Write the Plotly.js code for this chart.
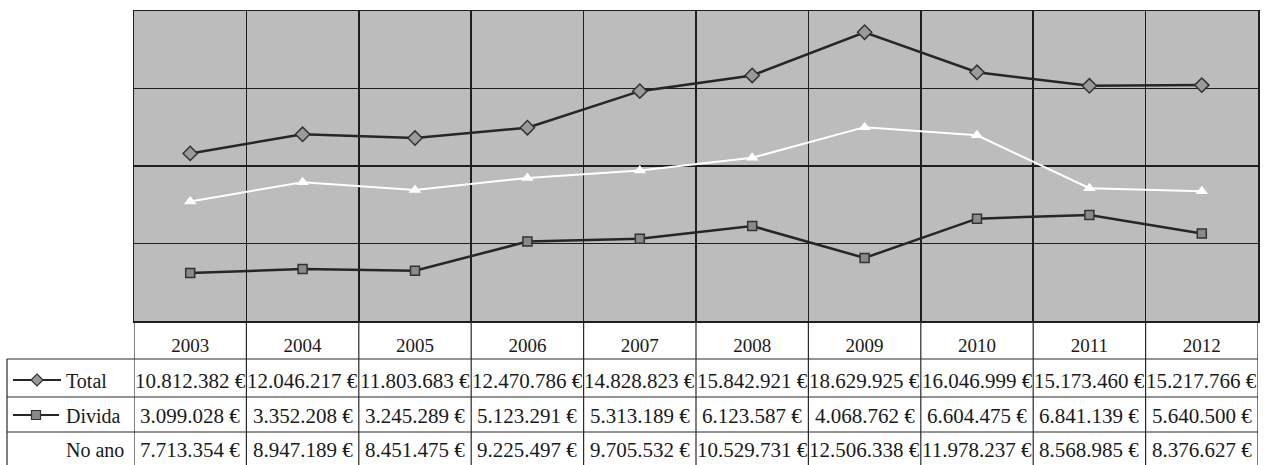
<!DOCTYPE html>
<html>
<head>
<meta charset="utf-8">
<script src="https://cdn.plot.ly/plotly-3.0.1.min.js"></script>
<style>
html,body{margin:0;padding:0;background:#fff;}
#chart{width:1265px;height:465px;}
</style>
</head>
<body>
<div id="chart"></div>
<script>
const years = ['2003','2004','2005','2006','2007','2008','2009','2010','2011','2012'];
const total = [10812382, 12046217, 11803683, 12470786, 14828823, 15842921, 18629925, 16046999, 15173460, 15217766];
const divida = [3099028, 3352208, 3245289, 5123291, 5313189, 6123587, 4068762, 6604475, 6841139, 5640500];
const noAno = [7713354, 8947189, 8451475, 9225497, 9705532, 10529731, 12506338, 11978237, 8568985, 8376627];
const seriesNames = ['Total', 'Divida', 'No ano'];

// geometry (pixels)
const W = 1265, H = 465;
const L = 134, R = 1258, T = 11, B = 321;
const PH = B - T, PW = R - L;
const py = p => (B - p) / PH;          // pixel y -> paper y
const px = p => (p - L) / PW;          // pixel x -> paper x

const FONT = 'Liberation Serif, DejaVu Serif, serif';
const LINE = '#2a2a2a';

function fmt(v) {
  return String(v).replace(/\B(?=(\d{3})+(?!\d))/g, '.') + ' €';
}

const traces = [
  {x: years, y: total, name: seriesNames[0], type: 'scatter', mode: 'lines+markers',
   line: {color: '#262626', width: 2.5},
   marker: {symbol: 'diamond', size: 11, color: '#9a9a9a', line: {color: '#333', width: 1.5}}},
  {x: years, y: divida, name: seriesNames[1], type: 'scatter', mode: 'lines+markers',
   line: {color: '#262626', width: 2.5},
   marker: {symbol: 'square', size: 9, color: '#8a8a8a', line: {color: '#333', width: 1.5}}},
  {x: years, y: noAno, name: seriesNames[2], type: 'scatter', mode: 'lines+markers',
   line: {color: '#ffffff', width: 2},
   marker: {symbol: 'triangle-up', size: 11, color: '#ffffff', line: {color: '#ffffff', width: 0}}}
];

// table rows
const rows = [total, divida, noAno];
const rowCenters = [381, 416, 450];
const rowLines = [359, 397, 432];

const shapes = [];
const annotations = [];

// horizontal table lines
rowLines.forEach(p => {
  shapes.push({type: 'line', xref: 'paper', yref: 'paper', x0: px(7), x1: 1, y0: py(p), y1: py(p),
               line: {color: LINE, width: 1.2}});
});
// left border of row area
shapes.push({type: 'line', xref: 'paper', yref: 'paper', x0: px(7), x1: px(7), y0: py(359), y1: py(466),
             line: {color: LINE, width: 1.2}});
// vertical lines under plot (category boundaries)
for (let k = 0; k <= years.length; k++) {
  shapes.push({type: 'line', xref: 'x', yref: 'paper', x0: k - 0.5, x1: k - 0.5, y0: 0, y1: py(466),
               line: {color: LINE, width: 1.2}});
}

// cell values (category axis: annotation x is the category index)
rows.forEach((vals, r) => {
  vals.forEach((v, i) => {
    annotations.push({xref: 'x', yref: 'paper', x: i, y: py(rowCenters[r]),
      text: fmt(v), showarrow: false, xanchor: 'center', yanchor: 'middle',
      font: {family: FONT, size: 21, color: '#1a1a1a'}});
  });
});

// row labels
seriesNames.forEach((n, r) => {
  annotations.push({xref: 'paper', yref: 'paper', x: px(64), y: py(rowCenters[r]),
    text: n, showarrow: false, xanchor: 'left', yanchor: 'middle',
    font: {family: FONT, size: 20, color: '#1a1a1a'}});
});

// legend keys
const keyY0 = py(rowCenters[0] - 1), keyY1 = py(rowCenters[1] - 1);
shapes.push({type: 'line', xref: 'paper', yref: 'paper', x0: px(13), x1: px(61), y0: keyY0, y1: keyY0,
             line: {color: '#262626', width: 2}});
shapes.push({type: 'path', xref: 'paper', yref: 'paper', xsizemode: 'pixel', ysizemode: 'pixel',
             xanchor: px(37), yanchor: keyY0, path: 'M0,6L6,0L0,-6L-6,0Z',
             fillcolor: '#9a9a9a', line: {color: '#333', width: 1.2}});
shapes.push({type: 'line', xref: 'paper', yref: 'paper', x0: px(13), x1: px(59), y0: keyY1, y1: keyY1,
             line: {color: '#262626', width: 2}});
shapes.push({type: 'path', xref: 'paper', yref: 'paper', xsizemode: 'pixel', ysizemode: 'pixel',
             xanchor: px(36), yanchor: keyY1, path: 'M-4.5,-4.5L4.5,-4.5L4.5,4.5L-4.5,4.5Z',
             fillcolor: '#8a8a8a', line: {color: '#333', width: 1.2}});

const layout = {
  width: W, height: H,
  margin: {l: L, r: W - R, t: T, b: H - B, pad: 0},
  paper_bgcolor: '#ffffff',
  plot_bgcolor: '#bcbcbc',
  showlegend: false,
  xaxis: {
    type: 'category', tickson: 'boundaries', showgrid: true, gridcolor: '#1e1e1e', gridwidth: 1.5,
    ticks: '', showline: true, mirror: true, linecolor: '#1e1e1e', linewidth: 1.5,
    tickfont: {family: FONT, size: 19, color: '#1a1a1a'}, ticklabelstandoff: 7,
    range: [-0.5, years.length - 0.5], fixedrange: true
  },
  yaxis: {
    range: [0, 20000000], dtick: 5000000, tick0: 0, showticklabels: false, ticks: '',
    showgrid: true, gridcolor: '#1e1e1e', gridwidth: 1.5, zeroline: false,
    showline: true, mirror: true, linecolor: '#1e1e1e', linewidth: 1.5, fixedrange: true
  },
  shapes: shapes,
  annotations: annotations,
  font: {family: FONT}
};

Plotly.newPlot('chart', traces, layout, {displayModeBar: false, staticPlot: true});
</script>
</body>
</html>
